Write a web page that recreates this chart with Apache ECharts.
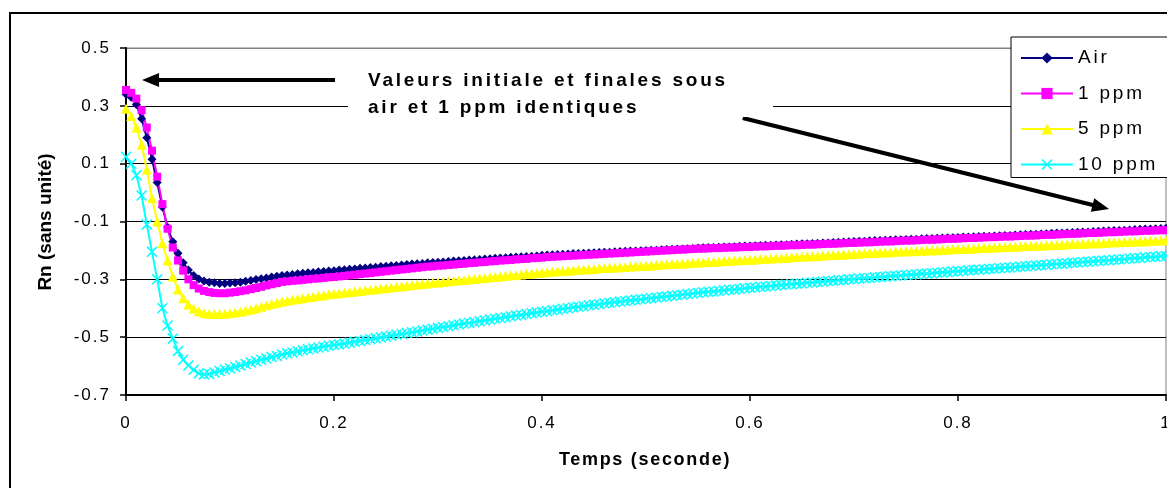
<!DOCTYPE html>
<html>
<head>
<meta charset="utf-8">
<script src="https://cdn.jsdelivr.net/npm/echarts@6/dist/echarts.min.js"></script>
<style>
html,body{margin:0;padding:0;background:#fff;}
#c{width:1167px;height:488px;}
</style>
</head>
<body>
<div id="c"></div>
<script>
// ---- data ----
const times = [
0,0.005,0.01,0.015,0.02,0.025,0.03,0.035,0.04,0.045,0.05,0.055,0.06,0.065,0.07,0.075,0.08,0.085,0.09,0.095,
0.1,0.105,0.11,0.115,0.12,0.125,0.13,0.135,0.14,0.145,0.15,0.155,0.16,0.165,0.17,0.175,0.18,0.185,0.19,0.195,
0.2,0.205,0.21,0.215,0.22,0.225,0.23,0.235,0.24,0.245,0.25,0.255,0.26,0.265,0.27,0.275,0.28,0.285,0.29,0.295,
0.3,0.305,0.31,0.315,0.32,0.325,0.33,0.335,0.34,0.345,0.35,0.355,0.36,0.365,0.37,0.375,0.38,0.385,0.39,0.395,
0.4,0.405,0.41,0.415,0.42,0.425,0.43,0.435,0.44,0.445,0.45,0.455,0.46,0.465,0.47,0.475,0.48,0.485,0.49,0.495,
0.5,0.505,0.51,0.515,0.52,0.525,0.53,0.535,0.54,0.545,0.55,0.555,0.56,0.565,0.57,0.575,0.58,0.585,0.59,0.595,
0.6,0.605,0.61,0.615,0.62,0.625,0.63,0.635,0.64,0.645,0.65,0.655,0.66,0.665,0.67,0.675,0.68,0.685,0.69,0.695,
0.7,0.705,0.71,0.715,0.72,0.725,0.73,0.735,0.74,0.745,0.75,0.755,0.76,0.765,0.77,0.775,0.78,0.785,0.79,0.795,
0.8,0.805,0.81,0.815,0.82,0.825,0.83,0.835,0.84,0.845,0.85,0.855,0.86,0.865,0.87,0.875,0.88,0.885,0.89,0.895,
0.9,0.905,0.91,0.915,0.92,0.925,0.93,0.935,0.94,0.945,0.95,0.955,0.96,0.965,0.97,0.975,0.98,0.985,0.99,0.995,
1
];

const air = [
0.34,0.33,0.305,0.255,0.19,0.115,0.035,-0.05,-0.12,-0.17,-0.21,-0.243,-0.268,-0.287,-0.299,-0.306,-0.31,-0.312,-0.314,-0.314,
-0.313,-0.312,-0.310,-0.307,-0.304,-0.301,-0.298,-0.295,-0.292,-0.289,
-0.287,-0.285,-0.283,-0.281,-0.279,-0.277,-0.276,-0.274,-0.273,-0.271,
-0.270,-0.268,-0.267,-0.265,-0.264,-0.262,-0.261,-0.259,-0.258,-0.256,
-0.255,-0.253,-0.252,-0.250,-0.249,-0.247,-0.246,-0.245,-0.243,-0.242,
-0.241,-0.240,-0.238,-0.237,-0.236,-0.235,-0.233,-0.232,-0.231,-0.230,
-0.229,-0.227,-0.226,-0.225,-0.224,-0.223,-0.222,-0.221,-0.220,-0.219,
-0.217,-0.216,-0.215,-0.214,-0.213,-0.212,-0.211,-0.211,-0.210,-0.209,
-0.208,-0.207,-0.206,-0.206,-0.205,-0.204,-0.203,-0.202,-0.202,-0.201,
-0.200,-0.199,-0.199,-0.198,-0.197,-0.196,-0.195,-0.195,-0.194,-0.193,
-0.192,-0.191,-0.190,-0.190,-0.189,-0.188,-0.188,-0.187,-0.186,-0.185,
-0.185,-0.184,-0.183,-0.182,-0.182,-0.181,-0.180,-0.180,-0.179,-0.178,
-0.177,-0.177,-0.176,-0.175,-0.174,-0.174,-0.173,-0.172,-0.171,-0.170,
-0.169,-0.168,-0.168,-0.167,-0.166,-0.166,-0.165,-0.164,-0.163,-0.163,
-0.162,-0.161,-0.161,-0.160,-0.159,-0.159,-0.158,-0.157,-0.156,-0.156,
-0.155,-0.154,-0.154,-0.153,-0.152,-0.151,-0.151,-0.150,-0.149,-0.148,
-0.148,-0.147,-0.146,-0.145,-0.144,-0.144,-0.143,-0.142,-0.141,-0.140,
-0.140,-0.139,-0.138,-0.137,-0.136,-0.136,-0.135,-0.134,-0.133,-0.132,
-0.131,-0.131,-0.130,-0.129,-0.128,-0.127,-0.126,-0.126,-0.125,-0.124,
-0.123
];

const ppm1 = [
0.355,0.345,0.325,0.285,0.225,0.145,0.055,-0.04,-0.125,-0.19,-0.235,-0.27,-0.3,-0.32,-0.332,-0.34,-0.344,-0.347,-0.348,-0.348,
-0.346,-0.344,-0.341,-0.338,-0.334,-0.33,-0.326,-0.321,-0.317,-0.313,
-0.309,-0.307,-0.305,-0.304,-0.302,-0.300,-0.298,-0.297,-0.295,-0.293,
-0.292,-0.290,-0.288,-0.286,-0.284,-0.282,-0.280,-0.278,-0.276,-0.274,
-0.272,-0.270,-0.268,-0.266,-0.264,-0.262,-0.260,-0.258,-0.256,-0.255,
-0.253,-0.252,-0.250,-0.249,-0.247,-0.246,-0.244,-0.243,-0.241,-0.240,
-0.238,-0.237,-0.235,-0.234,-0.233,-0.231,-0.230,-0.229,-0.227,-0.226,
-0.225,-0.223,-0.222,-0.221,-0.220,-0.219,-0.218,-0.217,-0.216,-0.215,
-0.214,-0.213,-0.212,-0.211,-0.210,-0.209,-0.208,-0.207,-0.206,-0.205,
-0.204,-0.203,-0.202,-0.201,-0.200,-0.199,-0.198,-0.197,-0.196,-0.195,
-0.194,-0.194,-0.193,-0.192,-0.192,-0.191,-0.190,-0.190,-0.189,-0.188,
-0.188,-0.187,-0.186,-0.186,-0.185,-0.184,-0.184,-0.183,-0.182,-0.182,
-0.181,-0.180,-0.180,-0.179,-0.178,-0.177,-0.177,-0.176,-0.175,-0.174,
-0.174,-0.173,-0.172,-0.172,-0.171,-0.170,-0.169,-0.169,-0.168,-0.167,
-0.166,-0.166,-0.165,-0.164,-0.163,-0.163,-0.162,-0.161,-0.160,-0.160,
-0.159,-0.158,-0.157,-0.157,-0.156,-0.155,-0.154,-0.154,-0.153,-0.152,
-0.152,-0.151,-0.150,-0.149,-0.149,-0.148,-0.147,-0.146,-0.146,-0.145,
-0.144,-0.143,-0.143,-0.142,-0.141,-0.140,-0.140,-0.139,-0.138,-0.137,
-0.137,-0.136,-0.135,-0.134,-0.134,-0.133,-0.132,-0.132,-0.131,-0.130,
-0.130
];

const ppm5 = [
0.29,0.265,0.225,0.165,0.08,-0.02,-0.1,-0.175,-0.235,-0.29,-0.335,-0.365,-0.387,-0.401,-0.41,-0.416,-0.419,-0.42,-0.42,-0.419,
-0.417,-0.415,-0.412,-0.408,-0.404,-0.4,-0.395,-0.39,-0.385,-0.381,
-0.377,-0.374,-0.371,-0.368,-0.365,-0.362,-0.360,-0.357,-0.355,-0.352,
-0.350,-0.348,-0.346,-0.344,-0.342,-0.340,-0.338,-0.336,-0.334,-0.332,
-0.330,-0.328,-0.326,-0.324,-0.322,-0.320,-0.318,-0.316,-0.314,-0.312,
-0.311,-0.309,-0.307,-0.305,-0.303,-0.302,-0.300,-0.298,-0.296,-0.295,
-0.293,-0.291,-0.290,-0.288,-0.286,-0.285,-0.283,-0.281,-0.280,-0.278,
-0.277,-0.275,-0.274,-0.272,-0.271,-0.270,-0.268,-0.267,-0.266,-0.265,
-0.264,-0.262,-0.261,-0.260,-0.259,-0.258,-0.257,-0.256,-0.255,-0.254,
-0.253,-0.252,-0.250,-0.249,-0.248,-0.247,-0.246,-0.245,-0.244,-0.243,
-0.242,-0.241,-0.240,-0.239,-0.238,-0.237,-0.236,-0.235,-0.234,-0.233,
-0.232,-0.231,-0.230,-0.229,-0.228,-0.227,-0.226,-0.225,-0.224,-0.223,
-0.222,-0.221,-0.220,-0.219,-0.218,-0.217,-0.216,-0.215,-0.214,-0.213,
-0.212,-0.211,-0.210,-0.209,-0.208,-0.207,-0.207,-0.206,-0.205,-0.204,
-0.203,-0.203,-0.202,-0.201,-0.200,-0.199,-0.199,-0.198,-0.197,-0.196,
-0.195,-0.195,-0.194,-0.193,-0.192,-0.191,-0.191,-0.190,-0.189,-0.188,
-0.187,-0.187,-0.186,-0.185,-0.184,-0.184,-0.183,-0.182,-0.181,-0.181,
-0.180,-0.179,-0.178,-0.178,-0.177,-0.176,-0.175,-0.175,-0.174,-0.173,
-0.172,-0.172,-0.171,-0.170,-0.169,-0.169,-0.168,-0.167,-0.166,-0.166,
-0.165
];

const ppm10 = [
0.124,0.1,0.06,-0.01,-0.11,-0.205,-0.3,-0.4,-0.46,-0.505,-0.548,-0.578,-0.598,-0.613,-0.625,-0.629,-0.627,-0.622,-0.617,-0.612,
-0.608,-0.603,-0.598,-0.593,-0.588,-0.583,-0.578,-0.574,-0.569,-0.565,
-0.560,-0.556,-0.553,-0.549,-0.545,-0.542,-0.539,-0.536,-0.533,-0.530,
-0.527,-0.525,-0.522,-0.519,-0.516,-0.513,-0.510,-0.507,-0.504,-0.501,
-0.498,-0.495,-0.492,-0.489,-0.486,-0.483,-0.480,-0.477,-0.474,-0.471,
-0.468,-0.465,-0.462,-0.459,-0.456,-0.453,-0.451,-0.448,-0.445,-0.442,
-0.439,-0.436,-0.434,-0.431,-0.428,-0.425,-0.423,-0.420,-0.417,-0.415,
-0.412,-0.410,-0.407,-0.405,-0.402,-0.400,-0.397,-0.395,-0.393,-0.390,
-0.388,-0.386,-0.383,-0.381,-0.379,-0.377,-0.375,-0.373,-0.371,-0.369,
-0.367,-0.365,-0.363,-0.361,-0.359,-0.357,-0.355,-0.353,-0.351,-0.349,
-0.347,-0.345,-0.343,-0.342,-0.340,-0.338,-0.336,-0.335,-0.333,-0.331,
-0.329,-0.328,-0.326,-0.325,-0.323,-0.321,-0.320,-0.318,-0.317,-0.315,
-0.314,-0.312,-0.311,-0.309,-0.308,-0.306,-0.305,-0.303,-0.302,-0.300,
-0.299,-0.297,-0.296,-0.295,-0.293,-0.292,-0.291,-0.289,-0.288,-0.287,
-0.285,-0.284,-0.283,-0.281,-0.280,-0.279,-0.277,-0.276,-0.275,-0.273,
-0.272,-0.271,-0.269,-0.268,-0.267,-0.265,-0.264,-0.263,-0.261,-0.260,
-0.259,-0.258,-0.256,-0.255,-0.254,-0.252,-0.251,-0.250,-0.248,-0.247,
-0.246,-0.244,-0.243,-0.242,-0.240,-0.239,-0.238,-0.236,-0.235,-0.234,
-0.232,-0.231,-0.230,-0.228,-0.227,-0.226,-0.224,-0.223,-0.222,-0.220,
-0.219
];

const seriesNames = ['Air', '1 ppm', '5 ppm', '10 ppm'];
const xTitle = 'Temps (seconde)';
const yTitle = 'Rn (sans unité)';
const noteText = 'Valeurs initiale et finales sous\nair et 1 ppm identiques';
// annotation arrows in data coordinates: [fromX, fromY, toX, toY]
const arrowLeft = [0.201, 0.389, 0.0236, 0.389];
const arrowRight = [0.593, 0.258, 0.9373, -0.0498];

// ---- Excel-like letter spacing for text ----
(function () {
  const proto = CanvasRenderingContext2D.prototype;
  const orig = proto.fillText;
  proto.fillText = function (t, x, y, w) {
    const m = /(\d+(?:\.\d+)?)px/.exec(this.font || '');
    const size = m ? parseFloat(m[1]) : 0;
    let ls = '0px';
    if (t !== yTitle) {
      if (size === 17) ls = '2px';
      else if (size === 19) ls = '2.8px';
      else if (size === 18) ls = '1.7px';
    }
    try { this.letterSpacing = ls; } catch (e) {}
    const r = (w === undefined) ? orig.call(this, t, x, y) : orig.call(this, t, x, y, w);
    try { this.letterSpacing = '0px'; } catch (e) {}
    return r;
  };
})();

const FONT = "'Liberation Sans', Arial, sans-serif";
const pairs = vals => times.map((t, i) => [t, vals[i]]);
const xMark = 'path://M0,1L1,0L5,4L9,0L10,1L6,5L10,9L9,10L5,6L1,10L0,9L4,5Z';

const chart = echarts.init(document.getElementById('c'), null, { renderer: 'canvas' });

function lineSeries(name, vals, color, symbol, size) {
  return {
    name: name,
    type: 'line',
    data: pairs(vals),
    symbol: symbol,
    symbolSize: size,
    showSymbol: true,
    showAllSymbol: true,
    silent: true,
    lineStyle: { color: color, width: 2 },
    itemStyle: { color: color },
    emphasis: { disabled: true }
  };
}

const series = [
  lineSeries(seriesNames[0], air, '#000080', 'diamond', 9),
  lineSeries(seriesNames[1], ppm1, '#FF00FF', 'rect', 8),
  lineSeries(seriesNames[2], ppm5, '#FFFF00', 'triangle', 10),
  lineSeries(seriesNames[3], ppm10, '#00FFFF', xMark, 11)
];
series[0].markLine = {
  silent: true,
  animation: false,
  symbol: ['none', 'triangle'],
  symbolSize: [14, 17],
  label: { show: false },
  lineStyle: { color: '#000', width: 4, type: 'solid' },
  itemStyle: { color: '#000' },
  emphasis: { disabled: true },
  data: [
    [{ coord: [arrowLeft[0], arrowLeft[1]] }, { coord: [arrowLeft[2], arrowLeft[3]] }],
    [{ coord: [arrowRight[0], arrowRight[1]] }, { coord: [arrowRight[2], arrowRight[3]] }]
  ]
};

const option = {
  animation: false,
  backgroundColor: '#fff',
  textStyle: { fontFamily: FONT },
  grid: { left: 126, right: 1, top: 48, bottom: 93, containLabel: false, outerBoundsMode: 'none',
          show: true, borderColor: '#808080', borderWidth: 1, backgroundColor: 'transparent' },
  xAxis: {
    type: 'value', min: 0, max: 1, interval: 0.2,
    axisLine: { show: true, onZero: false, lineStyle: { color: '#000', width: 2 } },
    axisTick: { show: true, length: 6, lineStyle: { color: '#000', width: 1.5 } },
    axisLabel: { fontSize: 17, color: '#000', margin: 20, fontFamily: FONT, showMinLabel: true, showMaxLabel: true },
    splitLine: { show: false }
  },
  yAxis: {
    type: 'value', min: -0.7, max: 0.5, interval: 0.2,
    axisLine: { show: true, onZero: false, lineStyle: { color: '#000', width: 2 } },
    axisTick: { show: true, length: 6, lineStyle: { color: '#000', width: 1.5 } },
    axisLabel: { fontSize: 17, color: '#000', margin: 15, fontFamily: FONT, showMinLabel: true, showMaxLabel: true },
    splitLine: { show: true, lineStyle: { color: ['#000', '#000', '#000', '#000', '#000', '#000', '#808080'], width: 1 } }
  },
  legend: {
    orient: 'vertical',
    left: 1011, top: 37,
    itemWidth: 52, itemHeight: 14, itemGap: 15.5,
    padding: [11, 60, 3, 9],
    backgroundColor: '#fff',
    borderColor: '#000', borderWidth: 1, borderRadius: 0,
    textStyle: { fontSize: 19, color: '#000', lineHeight: 20, fontFamily: FONT },
    selectedMode: false,
    z: 20,
    data: seriesNames
  },
  series: series,
  graphic: [
    { type: 'rect', z: 100, silent: true, shape: { x: 10, y: 13, width: 1200, height: 500 },
      style: { fill: 'none', stroke: '#000', lineWidth: 2 } },
    { type: 'rect', z: 90, silent: true, shape: { x: 348, y: 62, width: 425, height: 55 },
      style: { fill: '#fff' } },
    { type: 'text', z: 91, silent: true, x: 368, y: 67,
      style: { text: noteText, font: 'bold 19px ' + FONT, fill: '#000', lineHeight: 27, align: 'left', verticalAlign: 'top' } },
    { type: 'text', z: 91, silent: true, x: 645, y: 460,
      style: { text: xTitle, font: 'bold 18px ' + FONT, fill: '#000', align: 'center', verticalAlign: 'middle' } },
    { type: 'text', z: 91, silent: true, x: 46, y: 222, rotation: Math.PI / 2,
      style: { text: yTitle, font: 'bold 19px ' + FONT, fill: '#000', align: 'center', verticalAlign: 'middle' } }
  ]
};

chart.setOption(option);
</script>
</body>
</html>
